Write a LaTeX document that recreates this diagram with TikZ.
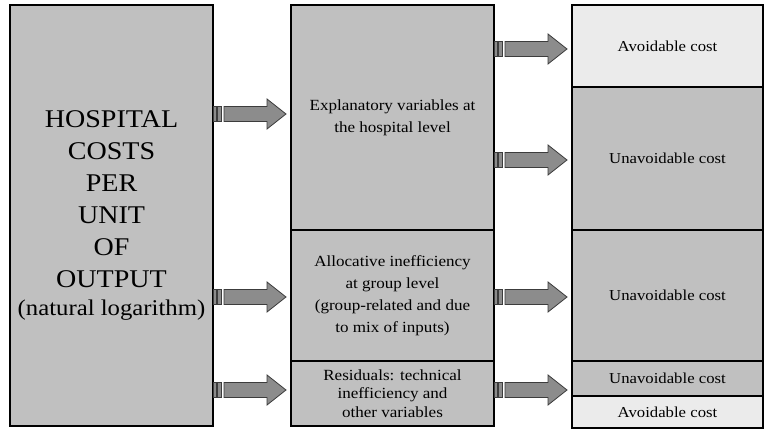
\documentclass[tikz,border=0pt]{standalone}
\usepackage{fontspec}
\setmainfont{Liberation Serif}[FakeStretch=1.1]
\usepackage{tikz}
\usetikzlibrary{
    arrows.meta,
    positioning,
    calc
}
\definecolor{boxC}{RGB}{192,192,192}
\definecolor{lightC}{RGB}{235,235,235}
\definecolor{arrowC}{RGB}{140,140,140}
\definecolor{edgeC}{RGB}{60,60,60}
\tikzset{
  bigbox/.style  = {draw, line width=2.5pt, fill=boxC, inner sep=0pt,
                    outer sep=0pt, align=center},
  midbox/.style  = {bigbox, font=\fontsize{15.5}{22}\selectfont},
  costbox/.style = {bigbox, font=\fontsize{15.2}{17}\selectfont},
  avoid/.style   = {costbox, fill=lightC},
  fatarr/.style  = {fill=arrowC, draw=edgeC, line width=0.8pt}
}
\newcommand{\fatarrow}[1]{%
  \begin{scope}[shift={(#1)}]
    \filldraw[fatarr] (0,-7.5) rectangle (3.5,7.5);
    \filldraw[fatarr] (4.5,-7.5) rectangle (8.5,7.5);
    \filldraw[fatarr] (11,-7.5) -- (54,-7.5) -- (54,-15) -- (73,0)
      -- (54,15) -- (54,7.5) -- (11,7.5) -- cycle;
  \end{scope}
}

\begin{document}
\begin{tikzpicture}[x=1pt, y=-1pt]
  \useasboundingbox (0,0) rectangle (766,430);

  %% ── Left block ────────────────────────────────────────────────
  \node[bigbox, minimum width=203pt, minimum height=421pt,
        font=\fontsize{25.5}{32}\selectfont] (hosp) at (111.5,215.5)
    {HOSPITAL\\COSTS\\PER\\UNIT\\OF\\OUTPUT\\[-4pt]
     {\fontsize{22.5}{24}\selectfont (natural logarithm)}};

  %% ── Middle blocks ─────────────────────────────────────────────
  \node[midbox, minimum width=203pt, minimum height=225pt] (expl) at (392.5,117.5)
    {Explanatory variables at\\the hospital level};
  \node[midbox, minimum width=203pt, minimum height=131pt] (alloc) at (392.5,295.5)
    {Allocative inefficiency\\at group level\\(group-related and due\\to mix of inputs)};
  \node[midbox, minimum width=203pt, minimum height=65pt,
        font=\fontsize{15.5}{18.5}\selectfont] (resid) at (392.5,393.5)
    {Residuals: technical\\inefficiency and\\other variables};

  %% ── Right blocks ──────────────────────────────────────────────
  \node[avoid,   minimum width=191pt, minimum height=82pt]  (avtop) at (667.5,46)   {Avoidable cost};
  \node[costbox, minimum width=191pt, minimum height=143pt] (unone) at (667.5,158.5) {Unavoidable cost};
  \node[costbox, minimum width=191pt, minimum height=131pt] (untwo) at (667.5,295.5) {Unavoidable cost};
  \node[costbox, minimum width=191pt, minimum height=35pt]  (unthr) at (667.5,378.5) {Unavoidable cost};
  \node[avoid,   minimum width=191pt, minimum height=32pt]  (avbot) at (667.5,412)   {Avoidable cost};

  %% ── Block arrows: left -> middle ──────────────────────────────
  \coordinate (a1) at (hosp.east |- 0,114);
  \coordinate (a2) at (hosp.east |- 0,297);
  \coordinate (a3) at (hosp.east |- 0,390);
  \fatarrow{a1}
  \fatarrow{a2}
  \fatarrow{a3}

  %% ── Block arrows: middle -> right ─────────────────────────────
  \coordinate (b1) at (expl.east |- 0,49);
  \coordinate (b2) at (expl.east |- 0,160);
  \coordinate (b3) at (alloc.east |- 0,297);
  \coordinate (b4) at (resid.east |- 0,390);
  \fatarrow{b1}
  \fatarrow{b2}
  \fatarrow{b3}
  \fatarrow{b4}

\end{tikzpicture}
\end{document}
